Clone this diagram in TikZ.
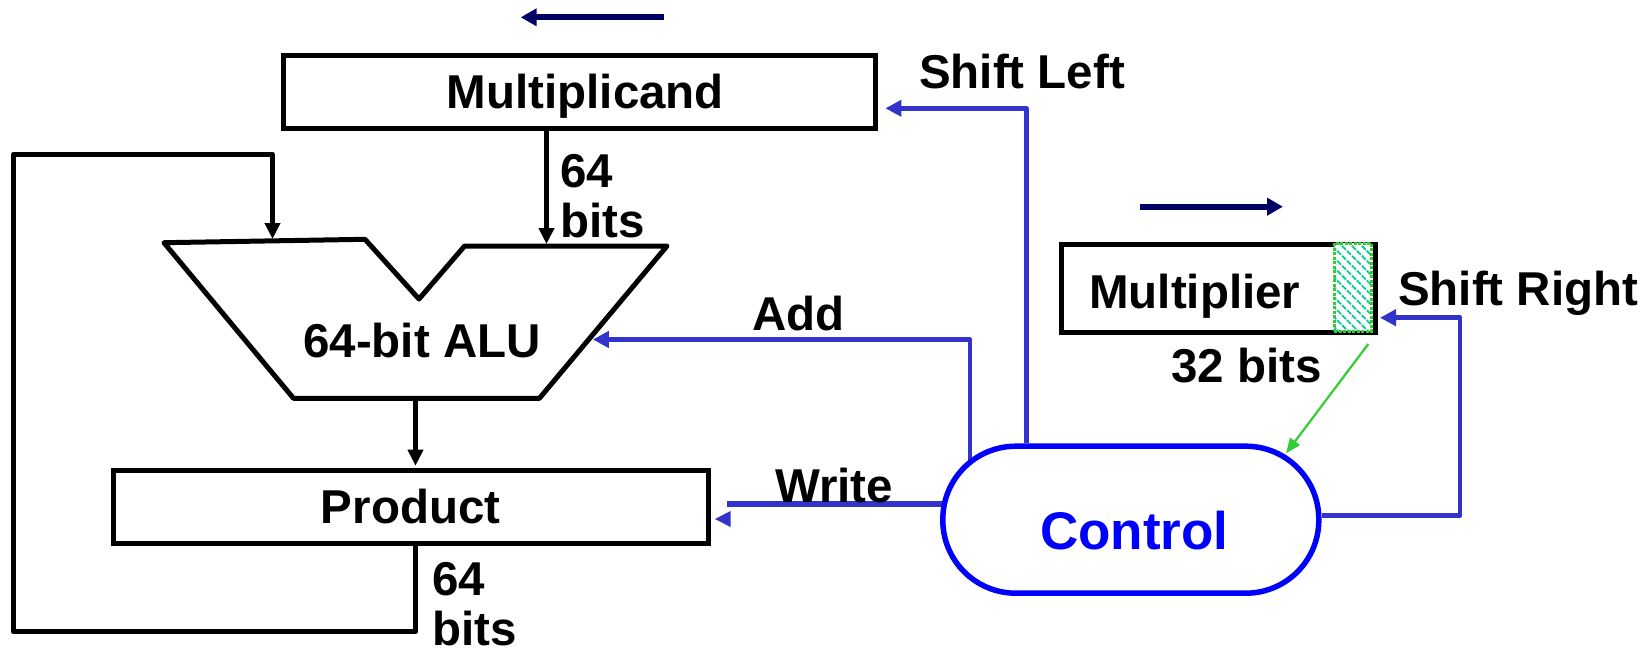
\documentclass[tikz,border=0pt]{standalone}
\usepackage{fontspec}
\setmainfont{Liberation Sans}
\usetikzlibrary{arrows.meta,patterns.meta,backgrounds}

\definecolor{wireblue}{RGB}{51,51,204}
\definecolor{ctrlblue}{RGB}{0,0,255}
\definecolor{shiftnavy}{RGB}{0,0,102}
\definecolor{sigreen}{RGB}{51,204,51}
\definecolor{hatchteal}{RGB}{0,204,153}

\tikzset{
  txt/.style={font=\bfseries\fontsize{47.5}{50}\selectfont, inner sep=0pt, anchor=base west},
  regbox/.style={draw=black, line width=5pt, fill=white, inner sep=0pt,
    font=\bfseries\fontsize{47.5}{50}\selectfont, text height=33pt, text depth=0pt},
  blk/.style={draw=black, line width=5pt, line join=round},
  blkarrow/.style={blk, -{Triangle[length=16pt,width=15pt]}},
  wire/.style={draw=wireblue, line width=4.5pt, line join=round},
  wirearrow/.style={wire, -{Triangle[length=16pt,width=16pt]}},
  shiftarrow/.style={draw=shiftnavy, line width=6pt, -{Triangle[length=16pt,width=17pt]}},
  statusarrow/.style={draw=sigreen, line width=2.2pt, -{Triangle[length=15pt,width=12pt]}},
  ctrlbox/.style={draw=ctrlblue, line width=5.5pt, fill=white, text=ctrlblue, inner sep=0pt,
    font=\bfseries\fontsize{53}{56}\selectfont, text height=60pt, text depth=0pt},
  lsbcell/.style={draw=sigreen, line width=3pt, dash pattern=on 3pt off 1.5pt,
    preaction={fill=white},
    pattern={Lines[angle=-45,distance=7pt,line width=1.8pt]}, pattern color=hatchteal,
    inner sep=0pt},
}

\begin{document}
\begin{tikzpicture}[x=1pt,y=-1pt]
\useasboundingbox (0,0) rectangle (1652,656);

% registers
\node[regbox, minimum width=592pt, minimum height=73pt] (mcand) at (579.3,92) {\hspace*{12pt}Multiplicand};
\node[regbox, minimum width=595pt, minimum height=73pt] (prod) at (410.6,506.7) {Product};
\node[regbox, minimum width=314pt, minimum height=88pt] (mplier) at (1218,288.8) {};
\node[txt] (mplierlbl) at (1089,308) {Multiplier};
\node[lsbcell, minimum width=37pt, minimum height=88pt] (mbit) at (1352.5,287) {};

% ALU outline
\coordinate (aTL) at (164,242.7);
\coordinate (aTM) at (365,239.3);
\coordinate (aNB) at (419,299);
\coordinate (aNR) at (464.6,246);
\coordinate (aTR) at (667,246);
\coordinate (aBR) at (539.4,398.3);
\coordinate (aBL) at (293.5,398.3);
\draw[blk] (aTL) -- (aTM) -- (aNB) -- (aNR) -- (aTR) -- (aBR) -- (aBL) -- cycle;
\node[txt] (alu) at (303,357) {64-bit ALU};

% control unit
\node[ctrlbox, minimum width=376pt, minimum height=147pt, rounded corners=73pt] (ctrl) at (1130.8,519.7) {\hspace*{7pt}Control};

% data paths
\coordinate (aluin1) at (272.5,239);
\coordinate (aluin2) at (546.5,244);
\coordinate (aluout) at (415.5,398.3);
\coordinate (fbBL) at (13.3,631.7);
\coordinate (fbTL) at (13.3,154.3);
\draw[blkarrow] (mcand.south -| aluin2) -- (aluin2);
\draw[blkarrow, shorten >=2pt] (aluout) -- (aluout |- prod.north);
\draw[blkarrow] (aluout |- prod.south) -- (aluout |- fbBL) -- (fbBL) -- (fbTL) -- (fbTL -| aluin1) -- (aluin1);

% control signals
\begin{scope}[on background layer]
  \coordinate (slbend) at (1026.4,108.3);
  \coordinate (sltip) at (885.4,108.3);
  \draw[wirearrow] (slbend |- ctrl.north) -- (slbend) -- (sltip);
  \coordinate (addbend) at (970,339.5);
  \coordinate (addtip) at (592.8,339.5);
  \draw[wirearrow] (addbend |- ctrl.center) -- (addbend) -- (addtip);
  \coordinate (wtail) at (727,504);
  \draw[wire, line width=6pt] (wtail -| ctrl.center) -- (wtail);
  \coordinate (srbend) at (1460,317.7);
  \coordinate (srtip) at (1380,317.7);
  \draw[wirearrow] ([yshift=4pt]ctrl.east) -- ([yshift=4pt]ctrl.east -| srbend) -- (srbend) -- (srtip);
\end{scope}
\fill[wireblue] (715,519) -- (730.5,511) -- (730.5,527) -- cycle;

% multiplier bit 0 to control
\coordinate (gstart) at (1368.3,344);
\coordinate (gtip) at (1286,453.3);
\draw[statusarrow] (gstart) -- (gtip);

% shift direction marks
\coordinate (lsTail) at (664,17.3);
\coordinate (lsTip) at (520.7,17.3);
\draw[shiftarrow] (lsTail) -- (lsTip);
\coordinate (rsTail) at (1140,206.7);
\coordinate (rsTip) at (1283,206.7);
\draw[shiftarrow] (rsTail) -- (rsTip);

% labels
\node[txt] (mc64) at (560,187) {64};
\node[txt] (mcbits) at (560,237) {bits};
\node[txt] (pr64) at (432,595) {64};
\node[txt] (prbits) at (432,645) {bits};
\node[txt] (addlbl) at (752,330) {Add};
\node[txt] (writelbl) at (775,502) {Write};
\node[txt] (sllbl) at (919,88) {Shift Left};
\node[txt] (srlbl) at (1398,305) {Shift Right};
\node[txt] (mplbits) at (1171,382) {32 bits};
\end{tikzpicture}
\end{document}
